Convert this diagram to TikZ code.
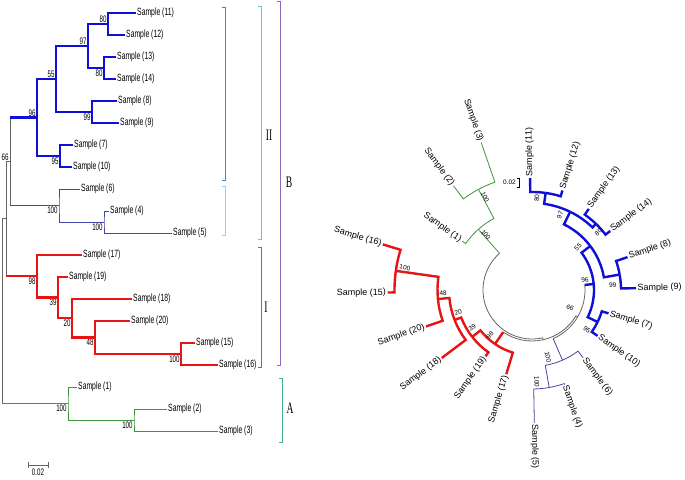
\documentclass[tikz,border=0pt]{standalone}
\usepackage{fontspec}
\setmainfont{Liberation Sans}
\newfontfamily\narrowsans[FakeStretch=0.65]{Liberation Sans}
\newfontfamily\narrowserif[FakeStretch=0.6]{Liberation Serif}
\usetikzlibrary{calc}

\definecolor{treeblue}{RGB}{15,15,215}
\definecolor{treered}{RGB}{230,20,20}
\definecolor{treenavy}{RGB}{70,70,170}
\definecolor{treegreen}{RGB}{60,150,60}
\definecolor{treegray}{RGB}{100,100,100}
\definecolor{brksteel}{RGB}{60,140,190}
\definecolor{brkpale}{RGB}{160,205,230}
\definecolor{brksky}{RGB}{120,185,220}
\definecolor{brkred}{RGB}{220,70,70}
\definecolor{brkpurple}{RGB}{150,100,185}
\definecolor{brkteal}{RGB}{70,180,130}

\begin{document}
\begin{tikzpicture}[x=1pt, y=1pt,
    thickblue/.style={draw=treeblue, line width=2.4pt},
    thickred/.style={draw=treered, line width=2.4pt},
    thinnavy/.style={draw=treenavy, line width=0.8pt},
    thingreen/.style={draw=treegreen, line width=0.8pt},
    rootline/.style={draw=treegray, line width=0.8pt},
    leaf/.style={anchor=west, inner sep=1pt, font=\narrowsans\fontsize{10.5}{12}\selectfont},
    boot/.style={inner sep=1.2pt, font=\narrowsans\fontsize{9.5}{11}\selectfont},
    cleaf/.style={inner sep=1.5pt, font=\fontsize{9}{10}\selectfont},
    cboot/.style={inner sep=0pt, font=\fontsize{6.5}{7}\selectfont},
    clade/.style={inner sep=0pt, font=\narrowserif\fontsize{16}{18}\selectfont},
    bracket/.style={line width=0.8pt}]
  \useasboundingbox (0,0) rectangle (685,479);

  % rectangular tree
  \foreach \n/\x/\y in {11/136/466, 12/125/444, 13/116/422, 14/116/400, 8/117/378,
      9/119/356, 7/73/334, 10/72/312, 6/80/290, 4/109/268, 5/172/246, 17/82/224,
      19/68/202, 18/132/180, 20/130/158, 15/195/136, 16/218/114, 1/77/92, 2/167/70, 3/218/48} {
    \coordinate (l\n) at (\x,\y);
    \node[leaf] (s\n) at (l\n) {Sample (\n)};
  }
  \coordinate[label={[boot]above left:80}] (n80a) at (108,455);
  \coordinate[label={[boot]below left:80}] (n80b) at (104,411);
  \coordinate[label={[boot]above left:97}] (n97) at (88,433);
  \coordinate[label={[boot]below left:99}] (n99) at (92,367);
  \coordinate[label={[boot]above left:55}] (n55) at (56,400);
  \coordinate[label={[boot]below left:95}] (n95) at (60,323);
  \coordinate[label={[boot]above left:96}] (n96) at (37,361.5);
  \coordinate[label={[boot]below left:100}] (n100b) at (104,257);
  \coordinate[label={[boot]below left:100}] (n100a) at (59,273.5);
  \coordinate[label={[boot]above left:66}] (n66) at (10,317.5);
  \coordinate[label={[boot]below left:100}] (n100c) at (181,125);
  \coordinate[label={[boot]below left:48}] (n48) at (95,141.5);
  \coordinate[label={[boot]below left:20}] (n20) at (72,160.75);
  \coordinate[label={[boot]below left:39}] (n39) at (58,181.4);
  \coordinate[label={[boot]below left:98}] (n98) at (37,202.7);
  \coordinate (nin) at (6,260.1);
  \coordinate[label={[boot]below left:100}] (n100d) at (134,59);
  \coordinate[label={[boot]below left:100}] (nA) at (68,75.5);
  \coordinate (nroot) at (2,167.8);

  \foreach \a/\p/\b in {l11/n80a/l12, l13/n80b/l14, n80a/n97/n80b, l8/n99/l9,
      n97/n55/n99, l7/n95/l10, n55/n96/n95}
    \draw[thickblue] (\a) -| (\p) |- (\b);
  \foreach \a/\p/\b in {l15/n100c/l16, l20/n48/n100c, l18/n20/n48, l19/n39/n20, l17/n98/n39}
    \draw[thickred] (\a) -| (\p) |- (\b);
  \foreach \a/\p/\b in {l4/n100b/l5, l6/n100a/n100b}
    \draw[thinnavy] (\a) -| (\p) |- (\b);
  \foreach \a/\p/\b in {l2/n100d/l3, l1/nA/n100d}
    \draw[thingreen] (\a) -| (\p) |- (\b);

  \draw[rootline] (n96 -| n66) -- (n100a -| n66);
  \draw[thickblue] (n96 -| n66) -- (n96);
  \draw[thinnavy] (n100a -| n66) -- (n100a);
  \draw[rootline] (n66 -| nin) -- (n98 -| nin);
  \draw[rootline] (n66 -| nin) -- (n66);
  \draw[thickred] (n98 -| nin) -- (n98);
  \draw[rootline] (nin -| nroot) -- (nA -| nroot);
  \draw[rootline] (nin -| nroot) -- (nin);
  \draw[thingreen] (nA -| nroot) -- (nA);

  % scale bar
  \coordinate (sbl) at (28,14);
  \coordinate (sbr) at (48,14);
  \draw[treegray, line width=0.8pt] (sbl) -- (sbr)
    ([yshift=-3]sbl) -- ([yshift=3]sbl) ([yshift=-3]sbr) -- ([yshift=3]sbr);
  \node[boot, below] (sbt) at ($(sbl)!0.5!(sbr)+(0,-2)$) {0.02};

  % brackets
  \draw[bracket, brksteel] (222,472) -- (225,472) -- (225,299) -- (222,299);
  \draw[bracket, brkpale] (222,293) -- (225,293) -- (225,244) -- (222,244);
  \draw[bracket, brksky] (258,473) -- (261,473) -- (261,240) -- (258,240);
  \draw[bracket, brkred] (258,232) -- (261,232) -- (261,112) -- (258,112);
  \draw[bracket, brkpurple] (277,478) -- (280,478) -- (280,114) -- (277,114);
  \draw[bracket, brkteal] (279,101) -- (282,101) -- (282,37) -- (279,37);
  \node[clade] (cII) at (269,344) {II};
  \node[clade] (cI) at (266,172) {I};
  \node[clade] (cB) at (289,297) {B};
  \node[clade] (cAA) at (290,71) {A};

  % circular tree
  \coordinate (C) at (532,189);
  \foreach \n/\a/\r/\rot/\anc in {11/91/112/91/west, 12/73/104/73/west, 13/55/99/55/west,
      14/37/98/37/west, 8/19/101/19/west, 9/1/104/1/west, 7/-17/80/-17/west,
      10/-35/80/-35/west, 6/-53/85/-53/west, 4/-71/100/-71/west, 5/-89/133/-89/west,
      17/-107/88/73/east, 19/-125/81/55/east, 18/-143/113/37/east, 20/-161/112/19/east,
      15/-179/144.5/1/east, 16/-197/156/-17/east, 1/-215/85.5/-35/east,
      2/-233/130.5/-53/east, 3/-251/156/-71/east} {
    \coordinate (t\n) at ([shift={(\a:\r)}]C);
    \node[cleaf, rotate=\rot, anchor=\anc] (u\n) at (t\n) {Sample (\n)};
  }
  \foreach \n/\a/\r in {c80a/82/98, c80b/46/92, c97/64/87, c99/10/89, c55/37/73,
      c95/-26/73, c96/5.5/62, c100b/-80/99, c100a/-66.5/76.5, c66/-30.5/53,
      c100c/-188/137.5, c48/-174.5/94.5, c20/-158.8/83, c39/-141.9/76, c98/-124.4/65.5,
      cin/-77.5/51, c100d/-242/114, cA/-228.5/81, croot/-153/49}
    \coordinate (\n) at ([shift={(\a:\r)}]C);

  \foreach \p/\pa/\pr/\c/\ca in {c80a/82/98/t11/91, c80a/82/98/t12/73, c80b/46/92/t13/55,
      c80b/46/92/t14/37, c97/64/87/c80a/82, c97/64/87/c80b/46, c99/10/89/t8/19,
      c99/10/89/t9/1, c55/37/73/c97/64, c55/37/73/c99/10, c95/-26/73/t7/-17,
      c95/-26/73/t10/-35, c96/5.5/62/c55/37, c96/5.5/62/c95/-26}
    \draw[thickblue] (\p) arc[start angle=\pa, end angle=\ca, radius=\pr] -- (\c);
  \foreach \p/\pa/\pr/\c/\ca in {c100b/-80/99/t4/-71, c100b/-80/99/t5/-89,
      c100a/-66.5/76.5/t6/-53, c100a/-66.5/76.5/c100b/-80}
    \draw[thinnavy] (\p) arc[start angle=\pa, end angle=\ca, radius=\pr] -- (\c);
  \foreach \p/\pa/\pr/\c/\ca in {c100c/-188/137.5/t15/-179, c100c/-188/137.5/t16/-197,
      c48/-174.5/94.5/t20/-161, c48/-174.5/94.5/c100c/-188, c20/-158.8/83/t18/-143,
      c20/-158.8/83/c48/-174.5, c39/-141.9/76/t19/-125, c39/-141.9/76/c20/-158.8,
      c98/-124.4/65.5/t17/-107, c98/-124.4/65.5/c39/-141.9}
    \draw[thickred] (\p) arc[start angle=\pa, end angle=\ca, radius=\pr] -- (\c);
  \foreach \p/\pa/\pr/\c/\ca in {c100d/-242/114/t2/-233, c100d/-242/114/t3/-251,
      cA/-228.5/81/t1/-215, cA/-228.5/81/c100d/-242}
    \draw[thingreen] (\p) arc[start angle=\pa, end angle=\ca, radius=\pr] -- (\c);

  \draw[rootline] (c66) arc[start angle=-30.5, end angle=5.5, radius=53] coordinate (k96);
  \draw[thickblue] (k96) -- (c96);
  \draw[rootline] (c66) arc[start angle=-30.5, end angle=-66.5, radius=53] coordinate (k100);
  \draw[thinnavy] (k100) -- (c100a);
  \draw[rootline] (cin) arc[start angle=-77.5, end angle=-30.5, radius=51] -- (c66);
  \draw[rootline] (cin) arc[start angle=-77.5, end angle=-124.4, radius=51] coordinate (k98);
  \draw[thickred] (k98) -- (c98);
  \draw[rootline] (croot) arc[start angle=-153, end angle=-77.5, radius=49] -- (cin);
  \draw[rootline] (croot) arc[start angle=-153, end angle=-228.5, radius=49] coordinate (kA);
  \draw[thingreen] (kA) -- (cA);

  \foreach \t/\a/\r/\rot [count=\i] in {80/87/92/87, 97/69.5/80/69.5, 80/41/88/41,
      55/43/63/43, 96/10.7/54/10.7, 99/3.5/81/3.5, 66/-25/42/-25, 95/-36/68/-36,
      100/-76.6/69/-76.6, 100/-87/92/-87, 98/-133/61.5/47, 39/-148/70.5/32,
      20/-163.4/77/16.6, 48/-178/89/2, 100/170/129/-10, 100/130/72/-50, 100/116.8/104/-63.2}
    \node[cboot, rotate=\rot] (b\i) at ([shift={(\a:\r)}]C) {\t};

  % circular scale bar
  \coordinate (qs1) at (519,301);
  \coordinate (qs2) at (519,292);
  \draw[black, line width=0.6pt] ([xshift=-2]qs1) -- (qs1) -- (qs2) -- ([xshift=-2]qs2);
  \node[cboot, anchor=east] (qst) at ($(qs1)!0.5!(qs2)+(-3,0)$) {0.02};
\end{tikzpicture}
\end{document}
